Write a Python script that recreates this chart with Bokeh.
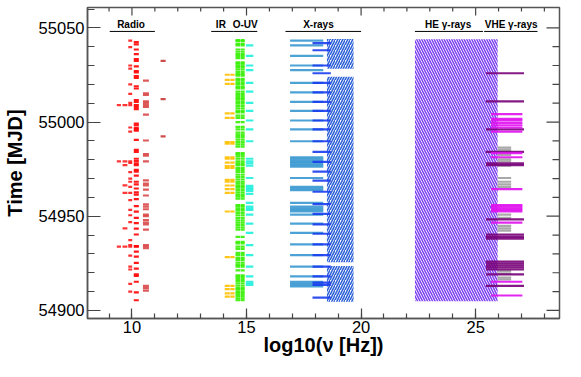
import math
from bokeh.plotting import figure
from bokeh.models import SingleIntervalTicker, ColumnDataSource
from bokeh.core.properties import value
from bokeh.embed import file_html
from bokeh.resources import INLINE

# ---------------- data (MJD of observations per instrument) ----------------
# frequency extents (log10 nu) of each instrument
radio_bands = {
    "r1": (9.34, 9.52), "r2": (9.59, 9.80), "r3": (9.84, 10.01),
    "r4": (10.08, 10.30), "r5": (10.48, 10.74), "r6": (11.25, 11.47),
}
radio_r1 = [55009.0, 54979.1, 54933.9]
radio_r2 = [55009.0, 54979.1, 54977.1, 54966.4, 54962.4, 54943.5, 54933.9]
radio_r3 = [55043.2, 55039.8, 55030.0, 55028.3, 55020.0, 55014.9, 55010.2, 55009.0,
            54997.1, 54994.9, 54979.1, 54978.3, 54973.4, 54970.0, 54968.3, 54965.6,
            54962.4, 54958.5, 54953.4, 54950.5, 54946.9, 54937.3, 54934.7, 54933.9,
            54929.1, 54923.2, 54921.7, 54914.1, 54910.0]
radio_r4 = [55042.4, 55041.2, 55038.5, 55036.1, 55033.4, 55032.5, 55029.5, 55027.1,
            55026.3, 55024.4, 55023.4, 55019.0, 55017.8, 55011.7, 55010.7, 55009.0,
            55008.0, 55006.8, 54999.1, 54998.3, 54996.9, 54996.1, 54995.4, 54990.5,
            54985.2, 54984.2, 54980.5, 54979.3, 54978.0, 54977.1, 54974.6, 54973.7,
            54971.5, 54968.3, 54966.9, 54964.7, 54962.7, 54961.5, 54959.1, 54955.4,
            54952.4, 54949.1, 54946.3, 54943.4, 54940.3, 54934.1, 54933.9, 54931.2,
            54928.5, 54925.2, 54922.2, 54919.1, 54918.3, 54915.2, 54909.6, 54905.4]
radio_r5 = [55022.0, 55015.2, 55014.4, 55011.0, 55010.2, 55009.0, 55008.0, 55003.9,
            54990.2, 54983.0, 54982.2, 54979.1, 54969.0, 54967.3, 54966.4, 54964.1,
            54961.0, 54956.3, 54955.1, 54953.7, 54950.8, 54950.0, 54947.9, 54946.6,
            54945.7, 54942.9, 54934.7, 54933.9, 54933.0, 54913.0, 54911.8, 54910.5]
radio_r6 = [55032.5, 55012.2, 54992.4]

ir_bands = {"i1": (14.05, 14.27), "i2": (14.29, 14.48)}
ir_mjd = [55025.1, 55022.4, 55020.3, 55004.6, 55002.2, 54989.3, 54988.5, 54981.3,
          54980.5, 54978.5, 54976.6, 54975.7, 54969.3, 54968.3, 54966.3, 54964.4,
          54962.4, 54952.5, 54928.3, 54913.0, 54911.3, 54909.0, 54907.3]

opt_bands = {"o1": (14.52, 14.72), "o2": (14.74, 14.92)}
opt_mjd = [55043.5, 55042.9, 55041.5, 55040.7, 55038.5, 55037.3, 55036.1, 55035.1,
           55033.9, 55031.7, 55031.0, 55030.0, 55029.1, 55028.0, 55026.6, 55025.4,
           55024.6, 55022.9, 55022.0, 55020.8, 55019.8, 55018.6, 55017.8, 55016.1,
           55014.9, 55013.9, 55012.7, 55011.9, 55010.7, 55009.7, 55008.5, 55007.3,
           55005.9, 55005.1, 55003.4, 55002.2, 55000.0, 54997.4, 54996.1, 54994.4,
           54993.2, 54992.0, 54990.7, 54989.3, 54988.1, 54986.9, 54983.5, 54982.7,
           54981.7, 54980.5, 54979.1, 54978.0, 54977.1, 54975.7, 54974.6, 54973.4,
           54972.0, 54970.8, 54969.5, 54968.3, 54967.3, 54966.1, 54965.2, 54964.0,
           54962.7, 54961.5, 54960.5, 54959.3, 54955.9, 54955.1, 54953.9, 54952.9,
           54951.7, 54950.5, 54949.1, 54947.8, 54946.6, 54945.4, 54944.1, 54942.9,
           54939.0, 54936.4, 54935.6, 54933.9, 54932.7, 54930.5, 54929.3, 54927.9,
           54926.8, 54925.4, 54924.2, 54923.2, 54921.2, 54918.6, 54917.8, 54916.6,
           54915.6, 54914.4, 54913.2, 54911.8, 54911.0, 54909.8, 54908.8, 54907.6,
           54906.4, 54905.4]

uv_band = (14.97, 15.30)
uv_mjd = [55040.7, 55035.1, 55030.0, 55027.6, 55020.8, 55016.1, 55010.2, 55005.9,
          55000.8, 54996.1, 54989.8, 54980.5, 54979.1, 54978.0, 54976.8, 54970.3,
          54966.1, 54965.2, 54964.4, 54963.5, 54961.9, 54957.1, 54955.1, 54954.2,
          54953.4, 54950.8, 54946.1, 54941.2, 54934.7, 54929.3, 54923.2, 54918.1,
          54915.2, 54914.4, 54913.5]

xrt_band = (16.90, 18.35)
xrt_mjd = [55043.2, 55040.7, 55035.1, 55030.0, 55027.6, 55020.8, 55015.7, 55010.7,
           55005.9, 55000.8, 54996.1, 54989.8, 54981.3, 54980.5, 54979.6, 54978.8,
           54978.0, 54977.1, 54976.3, 54970.3, 54965.6, 54964.7, 54963.9, 54957.1,
           54955.1, 54954.2, 54953.4, 54952.5, 54950.8, 54946.1, 54941.2, 54935.1,
           54929.3, 54923.2, 54918.1, 54915.2, 54914.4, 54913.5, 54912.7]

pca_band = (17.88, 18.68)
pca_mjd = [55041.9, 55038.1, 55030.0, 55025.9, 55020.8, 55015.7, 55010.7, 55005.9,
           55000.8, 54996.1, 54989.8, 54984.2, 54978.8, 54973.7, 54968.9, 54963.0,
           54956.4, 54951.2, 54945.7, 54940.7, 54935.1, 54929.3, 54923.2, 54918.1,
           54914.7, 54913.5, 54906.8]

# continuous coverage (hatched): hard X-rays and HE gamma-rays
bat_left, bat_right = 18.51, 19.67
bat_start = [55028.3, 54925.5, 54904.6]
bat_end = [55044.1, 55024.1, 54923.6]
lat_left, lat_right = 22.35, 25.96
lat_start = [54904.8]
lat_end = [55044.0]

vhe_mag_band = (25.67, 27.04)
vhe_mag_mjd = [55004.2, 55001.7, 55000.8, 54999.5, 54998.3, 54997.1, 54994.9, 54983.5,
               54981.3, 54964.4, 54955.9, 54955.1, 54954.2, 54953.4, 54952.5, 54946.6,
               54915.2, 54907.9]
vhe_pur_band = (25.45, 27.11)
vhe_pur_mjd = [55025.9, 55011.0, 54996.1, 54984.2, 54978.0, 54977.1, 54948.3, 54940.2,
               54939.0, 54938.1, 54925.9, 54924.9, 54923.9, 54922.9, 54921.8, 54919.1,
               54913.0]
vhe_gry_band = (25.96, 26.55)
vhe_gry_mjd = [54986.4, 54985.2, 54983.9, 54982.5, 54980.2, 54979.1, 54976.8, 54970.3,
               54968.3, 54966.9, 54965.6, 54950.8, 54949.1, 54944.9, 54943.5, 54942.4,
               54920.8, 54919.5, 54917.4, 54916.4]

band_names = ["Radio", "IR", "O-UV", "X-rays", "HE \u03b3-rays", "VHE \u03b3-rays"]
band_label_x = [9.96, 13.88, 14.94, 18.14, 23.80, 26.55]
band_line_left = [9.03, 13.46, 14.44, 16.70, 22.35, 25.37]
band_line_right = [11.00, 14.44, 15.47, 20.00, 25.32, 27.70]
band_label_mjd = 55051.6
band_line_mjd = 55048.1

FONT = "Liberation Sans"
X0, X1 = 8.06, 28.66
Y0, Y1 = 54895.7, 55060.8
X_MAJOR = 5
Y_MAJOR, Y_MINOR = 50, 10

p = figure(width=565, height=361, x_range=(X0, X1), y_range=(Y0, Y1),
           output_backend="svg", toolbar_location=None,
           min_border_left=85, min_border_right=6, min_border_top=7, min_border_bottom=43)
p.xgrid.visible = False
p.ygrid.visible = False
p.outline_line_color = "#555555"
p.outline_line_width = 1.5
p.background_fill_color = "white"
p.border_fill_color = "white"


def seg(mjds, band, color, width=2.2, alpha=0.9):
    src = ColumnDataSource(dict(x0=[band[0]] * len(mjds), x1=[band[1]] * len(mjds), y=mjds))
    p.segment(x0="x0", x1="x1", y0="y", y1="y", source=src, line_color=color,
              line_width=width, line_alpha=alpha)


# hatched continuous coverage
p.quad(left=[bat_left] * len(bat_start), right=[bat_right] * len(bat_start),
       bottom=bat_start, top=bat_end, fill_color="white", fill_alpha=0.0, line_color=None,
       hatch_pattern="/", hatch_color="#2f62d8", hatch_scale=5, hatch_weight=1.6)
p.quad(left=[lat_left], right=[lat_right], bottom=lat_start, top=lat_end,
       fill_color="white", fill_alpha=0.0, line_color=None,
       hatch_pattern="\\", hatch_color="#7b3ff0", hatch_scale=5, hatch_weight=1.5)

# radio
seg(radio_r1, radio_bands["r1"], "#ff2020")
seg(radio_r2, radio_bands["r2"], "#ff2020")
seg(radio_r3, radio_bands["r3"], "#ff1a1a")
seg(radio_r4, radio_bands["r4"], "#ff0000")
seg(radio_r5, radio_bands["r5"], "#d84848")
seg(radio_r6, radio_bands["r6"], "#c83a3a")
# IR
seg(ir_mjd, ir_bands["i1"], "#ffc000")
seg(ir_mjd, ir_bands["i2"], "#ffc000")
# optical / UV
seg(opt_mjd, opt_bands["o1"], "#33f000")
seg(opt_mjd, opt_bands["o2"], "#33f000")
seg(uv_mjd, uv_band, "#22eedd")
# X-rays
seg(xrt_mjd, xrt_band, "#3a98d0")
seg(pca_mjd, pca_band, "#1a3cf0")
# VHE
seg(vhe_gry_mjd, vhe_gry_band, "#a0a0a0")
seg(vhe_pur_mjd, vhe_pur_band, "#780078")
seg(vhe_mag_mjd, vhe_mag_band, "#e010f0")

# band labels
p.text(x=band_label_x, y=[band_label_mjd] * len(band_names), text=band_names,
       text_font=value(FONT), text_font_style="bold", text_font_size="10px",
       text_align="center", text_baseline="middle", text_color="black")
p.segment(x0=band_line_left, x1=band_line_right, y0=[band_line_mjd] * 6,
          y1=[band_line_mjd] * 6, line_color="black", line_width=1)

# axes (ticks drawn inwards, ROOT style)
p.xaxis.ticker = SingleIntervalTicker(interval=X_MAJOR, num_minor_ticks=5)
p.yaxis.ticker = SingleIntervalTicker(interval=Y_MAJOR, num_minor_ticks=5)
for ax, tin, tmin in ((p.xaxis[0], 10, 5), (p.yaxis[0], 13, 7)):
    ax.major_tick_in = tin
    ax.major_tick_out = 0
    ax.minor_tick_in = tmin
    ax.minor_tick_out = 0
    ax.axis_line_color = "#555555"
    ax.axis_line_width = 1.5
    ax.major_tick_line_color = "#444444"
    ax.minor_tick_line_color = "#444444"
    ax.major_tick_line_width = 1.2
    ax.minor_tick_line_width = 1.2
    ax.major_label_text_font = FONT
    ax.major_label_text_font_size = "16.5px"
    ax.major_label_text_color = "black"
    ax.axis_label_text_font = FONT
    ax.axis_label_text_font_style = "bold"
    ax.axis_label_text_font_size = "20px"
    ax.axis_label_text_color = "black"
p.xaxis.axis_label = "log10(\u03bd [Hz])"
p.yaxis.axis_label = "Time [MJD]"
p.xaxis.major_label_standoff = 2
p.xaxis.axis_label_standoff = -2
p.yaxis.major_label_standoff = 3
p.yaxis.axis_label_standoff = 10

# mirrored tick marks on the top and right frame edges
x_minor = [v for v in range(math.ceil(X0), math.floor(X1) + 1)]
x_major = [v for v in x_minor if v % X_MAJOR == 0]
x_minor = [v for v in x_minor if v % X_MAJOR != 0]
y_minor = [v for v in range(54900, 55060, Y_MINOR)]
y_major = [v for v in y_minor if v % Y_MAJOR == 0]
y_minor = [v for v in y_minor if v % Y_MAJOR != 0]
tick_col = "#444444"
p.ray(x=x_major, y=[Y1] * len(x_major), length=8, length_units="screen",
      angle=-math.pi / 2, line_color=tick_col, line_width=1.2)
p.ray(x=x_minor, y=[Y1] * len(x_minor), length=4, length_units="screen",
      angle=-math.pi / 2, line_color=tick_col, line_width=1.2)
p.ray(x=[X1] * len(y_major), y=y_major, length=13, length_units="screen",
      angle=math.pi, line_color=tick_col, line_width=1.2)
p.ray(x=[X1] * len(y_minor), y=y_minor, length=7, length_units="screen",
      angle=math.pi, line_color=tick_col, line_width=1.2)

open("out.html", "w").write(file_html(p, INLINE))
